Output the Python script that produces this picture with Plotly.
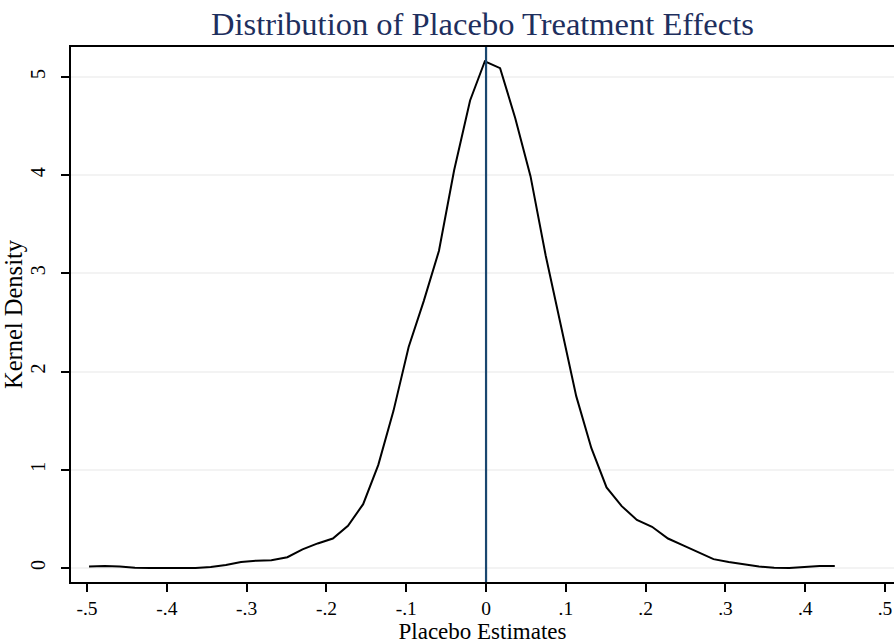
import plotly.graph_objects as go

# Kernel density estimate points
x_points = [-0.4975, -0.478, -0.459, -0.440, -0.421, -0.402, -0.383, -0.364, -0.345, -0.326,
            -0.307, -0.288, -0.269, -0.249, -0.230, -0.211, -0.192, -0.173, -0.154, -0.135,
            -0.116, -0.097, -0.078, -0.059, -0.040, -0.020, -0.0015, 0.0176, 0.0366, 0.0557,
            0.0748, 0.0939, 0.113, 0.132, 0.151, 0.170, 0.189, 0.208, 0.228, 0.247,
            0.266, 0.285, 0.304, 0.323, 0.342, 0.361, 0.380, 0.399, 0.418, 0.437]
density = [0.015, 0.02, 0.015, 0.003, 0.0, 0.0, 0.0, 0.0, 0.01, 0.03,
           0.06, 0.075, 0.08, 0.11, 0.19, 0.25, 0.30, 0.43, 0.65, 1.05,
           1.6, 2.25, 2.72, 3.23, 4.05, 4.76, 5.16, 5.09, 4.58, 3.99,
           3.18, 2.45, 1.75, 1.22, 0.82, 0.63, 0.49, 0.42, 0.30, 0.23,
           0.16, 0.09, 0.06, 0.035, 0.015, 0.003, 0.0, 0.01, 0.02, 0.02]

x_tick_vals = [-0.5, -0.4, -0.3, -0.2, -0.1, 0, 0.1, 0.2, 0.3, 0.4, 0.5]
x_tick_text = ["-.5", "-.4", "-.3", "-.2", "-.1", "0", ".1", ".2", ".3", ".4", ".5"]
y_tick_vals = [0, 1, 2, 3, 4, 5]
y_tick_text = ["0", "1", "2", "3", "4", "5"]
ref_line_x = 0

FONT = "Liberation Serif"

fig = go.Figure()
fig.add_trace(go.Scatter(x=x_points, y=density, mode="lines",
                         line=dict(color="black", width=2), showlegend=False,
                         hoverinfo="skip"))

fig.add_shape(type="line", xref="x", yref="paper", x0=ref_line_x, x1=ref_line_x,
              y0=0, y1=1, line=dict(color="#1a476f", width=2.2), layer="above")

fig.update_layout(
    width=894, height=644,
    margin=dict(l=71, r=0, t=47, b=62),
    paper_bgcolor="white", plot_bgcolor="white",
    title=dict(text="Distribution of Placebo Treatment Effects",
               font=dict(family=FONT, size=32.5, color="#1e2f5e"),
               x=0.5, xref="paper", xanchor="center",
               y=1 - 24 / 644, yref="container", yanchor="middle"),
    xaxis=dict(range=[-0.5201, 0.5112], tickvals=x_tick_vals, ticktext=x_tick_text,
               showgrid=False, zeroline=False,
               showline=True, linecolor="black", linewidth=2, mirror=True,
               ticks="outside", ticklen=8, tickwidth=1.5, tickcolor="black",
               tickfont=dict(family=FONT, size=19.5, color="black"),
               title=dict(text="Placebo Estimates",
                          font=dict(family=FONT, size=23, color="black"),
                          standoff=5)),
    yaxis=dict(range=[-0.1426, 5.305], tickvals=y_tick_vals, ticktext=y_tick_text,
               showgrid=True, gridcolor="#f3f3f3", gridwidth=1.5, zeroline=False,
               showline=True, linecolor="black", linewidth=2,
               ticks="outside", ticklen=8, tickwidth=1.5, tickcolor="black",
               tickangle=-90, ticklabelstandoff=8,
               tickfont=dict(family=FONT, size=20, color="black"),
               title=dict(text="Kernel Density",
                          font=dict(family=FONT, size=24.5, color="black"),
                          standoff=0)),
)

fig.write_html("out.html")
